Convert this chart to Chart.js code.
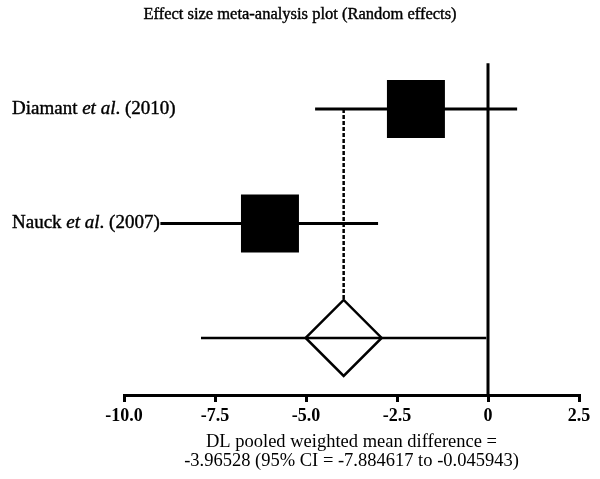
<!DOCTYPE html>
<html>
<head>
<meta charset="utf-8">
<script src="https://cdn.jsdelivr.net/npm/chart.js@4/dist/chart.umd.min.js"></script>
<style>
  html, body { margin: 0; padding: 0; background: #fff; }
  #wrap { width: 600px; height: 479px; position: relative; }
</style>
</head>
<body>
<div id="wrap"><canvas id="c" width="600" height="479"></canvas></div>
<script>
// ---- data ----
const studyNames = ["Diamant", "Nauck"];
const studyYears = ["(2010)", "(2007)"];
const studyRows = [3, 2];
const effects = [-1.98, -5.99];
const ciLow = [-4.75, -9.0];
const ciHigh = [0.8, -3.02];
const pooledRow = 1;
const pooledEffect = -3.96528;
const pooledLow = -7.884617;
const pooledHigh = -0.045943;
const tickValues = [-10, -7.5, -5, -2.5, 0, 2.5];
const tickLabels = ["-10.0", "-7.5", "-5.0", "-2.5", "0", "2.5"];
const chartTitle = "Effect size meta-analysis plot (Random effects)";
const axisTitle = ["DL pooled weighted mean difference =", "-3.96528 (95% CI = -7.884617 to -0.045943)"];

const SERIF = "'Liberation Serif', 'DejaVu Serif', serif";

const datasets = [];
// study CI lines
studyRows.forEach((r, i) => {
  datasets.push({
    data: [{x: ciLow[i], y: r}, {x: ciHigh[i], y: r}],
    showLine: true, borderColor: '#000', borderWidth: 3, pointRadius: 0, order: 3
  });
});
// study squares
datasets.push({
  data: studyRows.map((r, i) => ({x: effects[i], y: r})),
  showLine: false, pointStyle: 'rect', pointRadius: 41,
  backgroundColor: '#000', borderColor: '#000', borderWidth: 0, order: 2
});
// zero line
datasets.push({
  data: [{x: 0, y: 0.502}, {x: 0, y: 3.4}],
  showLine: true, borderColor: '#000', borderWidth: 3, pointRadius: 0, order: 6
});
// dashed line from top study to pooled
datasets.push({
  data: [{x: pooledEffect, y: studyRows[0]}, {x: pooledEffect, y: pooledRow}],
  showLine: true, borderColor: '#000', borderWidth: 2.5, borderDash: [4, 2], pointRadius: 0, order: 5
});
// pooled diamond
datasets.push({
  data: [{x: pooledEffect, y: pooledRow}],
  showLine: false, pointStyle: 'rectRot', pointRadius: 38,
  backgroundColor: '#fff', borderColor: '#000', borderWidth: 2.5, order: 4
});
// pooled CI line
datasets.push({
  data: [{x: pooledLow, y: pooledRow}, {x: pooledHigh, y: pooledRow}],
  showLine: true, borderColor: '#000', borderWidth: 2.5, pointRadius: 0, order: 1
});

const labelPlugin = {
  id: 'studyLabels',
  afterDatasetsDraw(chart) {
    const ctx = chart.ctx;
    const ys = chart.scales.y;
    ctx.save();
    ctx.fillStyle = '#000';
    ctx.strokeStyle = '#000';
    ctx.lineWidth = 0.4;
    ctx.textBaseline = 'middle';
    ctx.textAlign = 'left';
    const put = (t, x, y) => { ctx.fillText(t, x, y); ctx.strokeText(t, x, y); };
    studyRows.forEach((r, i) => {
      const y = ys.getPixelForValue(r);
      let x = 12;
      ctx.font = "19px " + SERIF;
      const a = studyNames[i] + " ";
      put(a, x, y); x += ctx.measureText(a).width;
      ctx.font = "italic 19px " + SERIF;
      const b = "et al";
      put(b, x, y); x += ctx.measureText(b).width;
      ctx.font = "19px " + SERIF;
      const c = ". " + studyYears[i];
      put(c, x, y);
    });
    // chart title centered on the canvas
    ctx.textAlign = 'center';
    ctx.font = "16.5px " + SERIF;
    put(chartTitle, chart.width / 2, 15);
    ctx.restore();
  }
};

new Chart(document.getElementById('c'), {
  type: 'scatter',
  data: { datasets },
  options: {
    responsive: false,
    animation: false,
    events: [],
    clip: false,
    layout: { autoPadding: false, padding: { left: 124, right: 21, top: 62, bottom: 0 } },
    plugins: {
      legend: { display: false },
      tooltip: { enabled: false },
      title: { display: false }
    },
    scales: {
      x: {
        type: 'linear',
        min: -10, max: 2.5,
        afterBuildTicks(scale) { scale.ticks = tickValues.map(v => ({value: v})); },
        afterFit(scale) {
          scale.height = 84;
          scale.paddingLeft = 0; scale.paddingRight = 0;
        },
        ticks: {
          color: '#000',
          padding: 4,
          maxRotation: 0,
          autoSkip: false,
          font: { family: SERIF, size: 18, weight: 'bold' },
          callback: (v) => { const i = tickValues.indexOf(v); return i >= 0 ? tickLabels[i] : ''; }
        },
        grid: { drawOnChartArea: false, drawTicks: true, tickLength: 7, color: '#000', lineWidth: 3 },
        border: { display: true, color: '#000', width: 3 },
        title: {
          display: true,
          text: axisTitle,
          color: '#000',
          font: { family: SERIF, size: 18.5, weight: 'normal', lineHeight: '19px' },
          padding: { top: 0, bottom: 8 }
        }
      },
      y: {
        type: 'linear',
        display: false,
        min: 0.502, max: 3.41
      }
    }
  },
  plugins: [labelPlugin]
});
</script>
</body>
</html>
